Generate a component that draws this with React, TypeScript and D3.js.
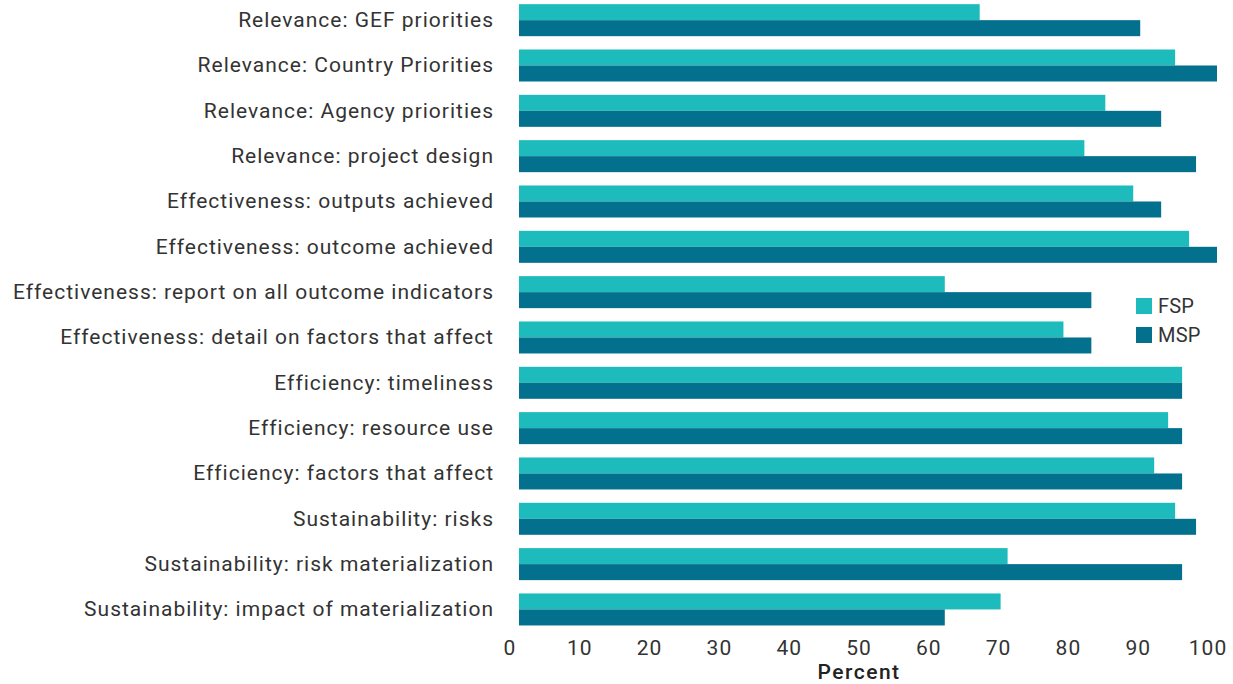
import React from "react";
import * as d3 from "d3";

const categories = [
  "Relevance: GEF priorities",
  "Relevance: Country Priorities",
  "Relevance: Agency priorities",
  "Relevance: project design",
  "Effectiveness: outputs achieved",
  "Effectiveness: outcome achieved",
  "Effectiveness: report on all outcome indicators",
  "Effectiveness: detail on factors that affect",
  "Efficiency: timeliness",
  "Efficiency: resource use",
  "Efficiency: factors that affect",
  "Sustainability: risks",
  "Sustainability: risk materialization",
  "Sustainability: impact of materialization",
];
const fsp = [66, 94, 84, 81, 88, 96, 61, 78, 95, 93, 91, 94, 70, 69];
const msp = [89, 100, 92, 97, 92, 100, 82, 82, 95, 95, 95, 97, 95, 61];
const seriesNames = ["FSP", "MSP"];
const tickValues = [0, 10, 20, 30, 40, 50, 60, 70, 80, 90, 100];
const axisTitle = "Percent";

const W = 1233;
const H = 684;
const colors = ["#1DBBBB", "#03708D"];
const font = "Roboto, 'DejaVu Sans', sans-serif";

export default function App() {
  const x = d3.scaleLinear().domain([0, 100]).range([519, 1217]);
  const step = 45.33;
  const y = d3
    .scaleBand<string>()
    .domain(categories)
    .range([-2.5, -2.5 + step * categories.length])
    .paddingInner(0.294)
    .paddingOuter(0.147);
  const sub = d3.scaleBand<string>().domain(seriesNames).range([0, y.bandwidth()]);
  const series = [fsp, msp];

  return (
    <svg width={W} height={H} style={{ position: "absolute", left: 0, top: 0 }}>
      <rect width={W} height={H} fill="#fff" />
      {categories.map((c, i) => (
        <g key={c}>
          {series.map((s, j) => (
            <rect
              key={j}
              x={x(0)}
              y={(y(c) as number) + (sub(seriesNames[j]) as number)}
              width={x(s[i]) - x(0)}
              height={sub.bandwidth()}
              fill={colors[j]}
            />
          ))}
          <text
            x={494}
            y={(y(c) as number) + y.bandwidth() / 2}
            textAnchor="end"
            dominantBaseline="central"
            fontFamily={font}
            fontSize={21}
            letterSpacing={1}
            fill="#333"
          >
            {c}
          </text>
        </g>
      ))}
      {tickValues.map((t) => (
        <text
          key={t}
          x={x(t) - 9}
          y={648}
          textAnchor="middle"
          dominantBaseline="central"
          fontFamily={font}
          fontSize={21}
          letterSpacing={1}
          fill="#333"
        >
          {t}
        </text>
      ))}
      <text
        x={859}
        y={672}
        textAnchor="middle"
        dominantBaseline="central"
        fontFamily={font}
        fontSize={21}
        fontWeight={500}
        letterSpacing={1.5}
        fill="#222"
      >
        {axisTitle}
      </text>
      {seriesNames.map((n, j) => (
        <g key={n}>
          <rect x={1136} y={298 + j * 29} width={16} height={16} fill={colors[j]} />
          <text
            x={1158}
            y={306 + j * 29}
            dominantBaseline="central"
            fontFamily={font}
            fontSize={20}
            letterSpacing={0.2}
            fill="#333"
          >
            {n}
          </text>
        </g>
      ))}
    </svg>
  );
}
